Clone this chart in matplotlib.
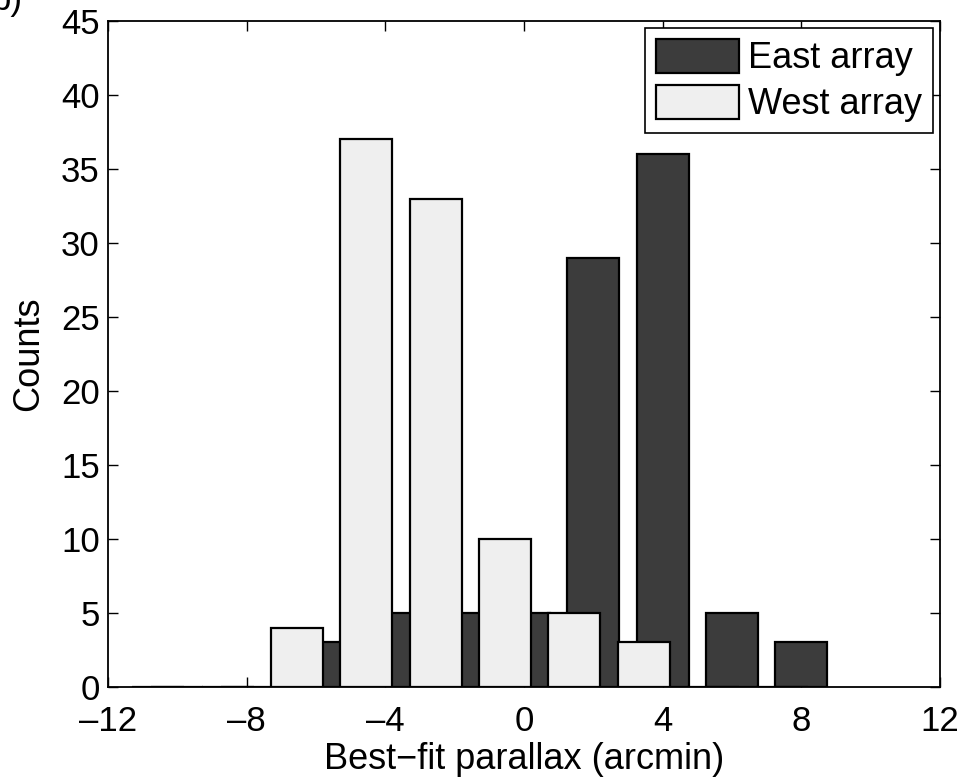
import numpy as np
import matplotlib.pyplot as plt

plt.rcParams['font.family'] = ['Liberation Sans', 'DejaVu Sans']

# histogram data (bin centres and counts)
east_centers = [-10, -8, -6, -4, -2, 0, 2, 4, 6, 8]
east_counts = [0, 0, 3, 5, 5, 5, 29, 36, 5, 3]
west_centers = [-10.55, -8.55, -6.55, -4.55, -2.55, -0.55, 1.45, 3.45, 5.45, 7.45]
west_counts = [0, 0, 4, 37, 33, 10, 5, 3, 0, 0]

xticks = [-12, -8, -4, 0, 4, 8, 12]
yticks = list(range(0, 46, 5))

fig = plt.figure(figsize=(9.74, 7.84), dpi=100)
ax = fig.add_axes([0.111, 0.124, 0.854, 0.849])

ax.bar(east_centers, east_counts, width=1.5, color='#3c3c3c',
       edgecolor='black', linewidth=1.6, label='East array', zorder=2)
ax.bar(west_centers, west_counts, width=1.5, color='#efefef',
       edgecolor='black', linewidth=1.6, label='West array', zorder=3)

ax.set_xlim(-12, 12)
ax.set_ylim(0, 45)
ax.set_xticks(xticks)
ax.set_xticklabels([('\u2013%d' % -t) if t < 0 else '%d' % t for t in xticks])
ax.set_yticks(yticks)
ax.tick_params(direction='in', top=True, right=True, length=7, width=1.0,
               labelsize=25)
ax.tick_params(axis='x', pad=13)
ax.tick_params(axis='y', pad=6)
for s in ax.spines.values():
    s.set_linewidth(1.3)
    s.set_zorder(5)

ax.set_xlabel('Best\u2212fit parallax (arcmin)', fontsize=26, labelpad=3)
ax.set_ylabel('Counts', fontsize=26, labelpad=11)

leg = ax.legend(loc='upper right', fontsize=26, fancybox=False,
                edgecolor='black', framealpha=1, handlelength=2.3,
                handleheight=1.05, handletextpad=0.25, labelspacing=0.25,
                borderpad=0.3, borderaxespad=0.2)
leg.get_frame().set_linewidth(1.2)

fig.text(-0.008, 0.987, 'b)', fontsize=25, ha='left', va='baseline')

fig.savefig('out.png', dpi=100)
